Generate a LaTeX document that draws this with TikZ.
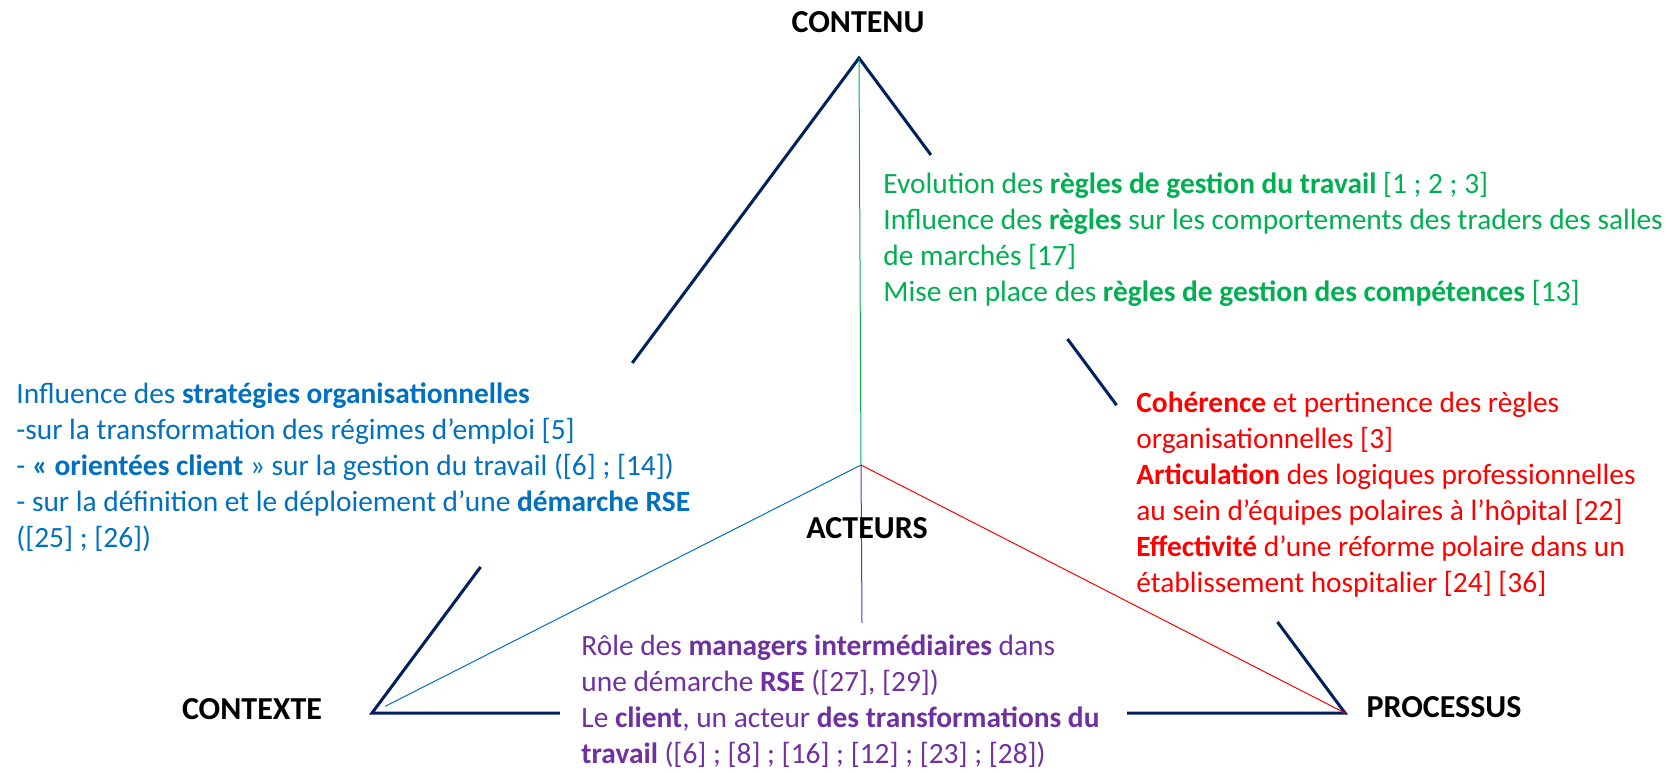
\documentclass[tikz,border=0pt]{standalone}
\usepackage{fontspec}
\setmainfont{Carlito}
\usetikzlibrary{calc}
\definecolor{navy}{HTML}{002060}
\definecolor{cgreen}{HTML}{00B050}
\definecolor{cblue}{HTML}{0070C0}
\definecolor{cred}{HTML}{FF0000}
\definecolor{cpurple}{HTML}{7030A0}
\tikzset{
  frame/.style={draw=navy, line width=1.5pt, line join=miter},
  spoke/.style={line width=0.5pt},
  title/.style={font=\fontsize{16}{19}\selectfont\bfseries, inner sep=0pt},
  body/.style={font=\fontsize{14.7}{18}\selectfont, align=left, anchor=west, inner sep=0pt},
}
\begin{document}
\begin{tikzpicture}[x=0.5pt,y=-0.5pt]
\useasboundingbox (0,0) rectangle (1677,772);
\coordinate (A) at (859,58);
\coordinate (L) at (372,713);
\coordinate (R) at (1345,713);
\coordinate (C) at (861,465);
\coordinate (P) at (862,623);
% outer frame with gaps
\draw[frame] ($(A)!0.4656!(L)$) -- (A) -- ($(A)!0.148!(R)$);
\draw[frame] ($(A)!0.777!(L)$) -- (L) -- ($(L)!0.193!(R)$);
\draw[frame] ($(A)!0.429!(R)$) -- ($(A)!0.53!(R)$);
\draw[frame] ($(L)!0.776!(R)$) -- (R) -- ($(A)!0.861!(R)$);
% spokes
\draw[spoke, cgreen] (A) -- (C);
\draw[spoke, cblue] (C) -- ($(C)!0.973!(L)$);
\draw[spoke, cred] (C) -- (R);
\draw[spoke, cpurple] (C) -- (P);
% titles
\node[title] (contenu) at (858,22) {CONTENU};
\node[title] (acteurs) at (867,528) {ACTEURS};
\node[title] (contexte) at (252,709) {CONTEXTE};
\node[title] (processus) at (1444,707) {PROCESSUS};
% text blocks
\node[body, text=cgreen] (tgreen) at (883,239) {Evolution des \textbf{règles de gestion du travail} [1 ; 2 ; 3]\\
Influence des \textbf{règles} sur les comportements des traders des salles\\
de marchés [17]\\
Mise en place des \textbf{règles de gestion des compétences} [13]};
\node[body, text=cblue] (tblue) at (16,467) {Influence des \textbf{stratégies organisationnelles}\\
-sur la transformation des régimes d’emploi [5]\\
- \textbf{« orientées client} » sur la gestion du travail ([6] ; [14])\\
- sur la définition et le déploiement d’une \textbf{démarche RSE}\\
([25] ; [26])};
\node[body, text=cred] (tred) at (1136,495) {\textbf{Cohérence} et pertinence des règles\\
organisationnelles [3]\\
\textbf{Articulation} des logiques professionnelles\\
au sein d’équipes polaires à l’hôpital [22]\\
\textbf{Effectivité} d’une réforme polaire dans un\\
établissement hospitalier [24] [36]};
\node[body, text=cpurple] (tpurple) at (581,701) {Rôle des \textbf{managers intermédiaires} dans\\
une démarche \textbf{RSE} ([27], [29])\\
Le \textbf{client}, un acteur \textbf{des transformations du}\\
\textbf{travail} ([6] ; [8] ; [16] ; [12] ; [23] ; [28])};
\end{tikzpicture}
\end{document}
